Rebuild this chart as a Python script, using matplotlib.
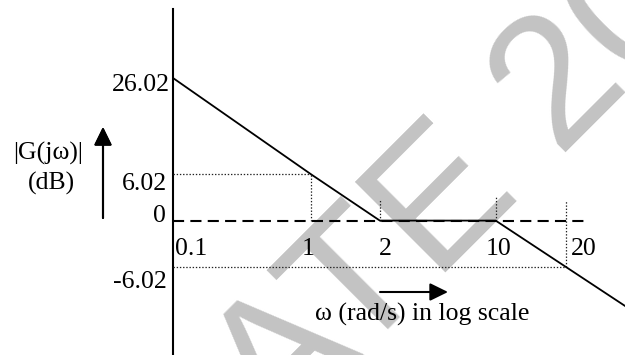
import numpy as np
import matplotlib
matplotlib.use("Agg")
import matplotlib.pyplot as plt

# asymptotic Bode magnitude (corner points)
omega = [0.1, 1, 2, 10, 20, 40]
mag_db = [26.02, 6.02, 0, 0, -6.02, -12.04]

x_ticks = [0.1, 1, 2, 10, 20]
x_tick_labels = ["0.1", "1", "2", "10", "20"]
y_ticks = [-6.02, 0, 6.02, 26.02]
y_tick_labels = ["-6.02", "0", "6.02", "26.02"]

# dotted guide lines
guide_omega = [1, 2, 10, 20]
guide_lo = [0, 0, 0, -6.02]
guide_hi = [6.02, 2.7, 3.1, 2.7]
hguide_db = [6.02, -6.02]
hguide_end = [1, 20]

plt.rcParams["font.family"] = ["Liberation Serif", "DejaVu Serif"]
plt.rcParams["lines.scale_dashes"] = False


def piecewise(xk, yk):
    # linear between knots, linear extrapolation beyond them
    xk = np.asarray(xk, float)
    yk = np.asarray(yk, float)
    s0 = (yk[1] - yk[0]) / (xk[1] - xk[0])
    s1 = (yk[-1] - yk[-2]) / (xk[-1] - xk[-2])

    def f(v):
        v = np.asarray(v, float)
        out = np.interp(v, xk, yk)
        out = np.where(v < xk[0], yk[0] + (v - xk[0]) * s0, out)
        out = np.where(v > xk[-1], yk[-1] + (v - xk[-1]) * s1, out)
        return out
    return f


# the sketch is not drawn to scale: warp the decades like the original
x_sketch = [-1, 0, 0.5, 1.34, 1.85]
x_log = np.log10(x_ticks)
x_f = piecewise(x_log, x_sketch)
x_i = piecewise(x_sketch, x_log)
y_sketch = [-6.02, 0, 6.02, 18.5]
y_f = piecewise(y_ticks, y_sketch)
y_i = piecewise(y_sketch, y_ticks)

fig = plt.figure(figsize=(6.25, 3.55), dpi=100)
ax = fig.add_axes([173 / 625, 1 - 267 / 355, 393 / 625, 189 / 355])
ax.set_xscale("function", functions=(lambda w: x_f(np.log10(np.clip(w, 1e-9, None))),
                                     lambda u: 10 ** x_i(u)))
ax.set_yscale("function", functions=(y_f, y_i))
ax.set_xlim(0.1, 20)
ax.set_ylim(-6.02, 26.02)
ax.axis("off")

# watermark
fig.text(0.28, -0.53, "GATE 20", rotation=45, rotation_mode="anchor",
         ha="left", va="baseline", fontsize=134,
         family="Liberation Sans", color="#c3c3c3", zorder=-5)

# vertical axis and dashed 0 dB line
ax.axvline(0.1, ymin=-0.47, ymax=1.365, color="k", lw=1.5, clip_on=False)
ax.plot([0, 1.056], [0, 0], transform=ax.get_yaxis_transform(), color="k",
        lw=1.5, dashes=(8, 4.5), clip_on=False)

# guides
dot = dict(color="#222222", lw=0.9, dashes=(1, 1.3), clip_on=False)
for db, end in zip(hguide_db, hguide_end):
    ax.plot([x_ticks[0], end], [db, db], **dot)
for w, lo, hi in zip(guide_omega, guide_lo, guide_hi):
    ax.plot([w, w], [lo, hi], **dot)

# magnitude plot
ax.plot(omega, mag_db, color="k", lw=1.3, clip_on=False, solid_capstyle="butt")

fs = 18.5
y_off = {"26.02": (-3, -13), "6.02": (-6, -16), "0": (-7, -1), "-6.02": (-6, -21)}
for v, t in zip(y_ticks, y_tick_labels):
    ax.annotate(t, (x_ticks[0], v), xytext=y_off[t], textcoords="offset pixels",
                ha="right", va="baseline", fontsize=fs, annotation_clip=False)

x_off = [18, -3, 5, 2.5, 17.5]
for v, t, dx in zip(x_ticks, x_tick_labels, x_off):
    ax.annotate(t, (v, 0), xytext=(dx, -34), textcoords="offset pixels",
                ha="center", va="baseline", fontsize=fs, annotation_clip=False)

# axis captions
fig.text(48 / 625, 1 - 160 / 355, "|G(jω)|", ha="center", va="baseline", fontsize=fs)
fig.text(51 / 625, 1 - 190 / 355, "(dB)", ha="center", va="baseline", fontsize=fs)
fig.text(422 / 625, 1 - 321 / 355, "ω (rad/s) in log scale", ha="center",
         va="baseline", fontsize=fs)

arrow = dict(arrowstyle="-|>,head_length=0.55,head_width=0.27", color="k", lw=1.5,
             mutation_scale=20, shrinkA=0, shrinkB=0)
fig.add_artist(plt.annotate("", xy=(103 / 625, 1 - 127 / 355), xytext=(103 / 625, 1 - 218 / 355),
                            xycoords="figure fraction", arrowprops=arrow))
ax.annotate("", xy=(448 / 625, 1 - 292 / 355), xytext=(380 / 625, 1 - 292 / 355),
            xycoords="figure fraction", arrowprops=arrow, annotation_clip=False)

fig.savefig("out.png", dpi=100)
